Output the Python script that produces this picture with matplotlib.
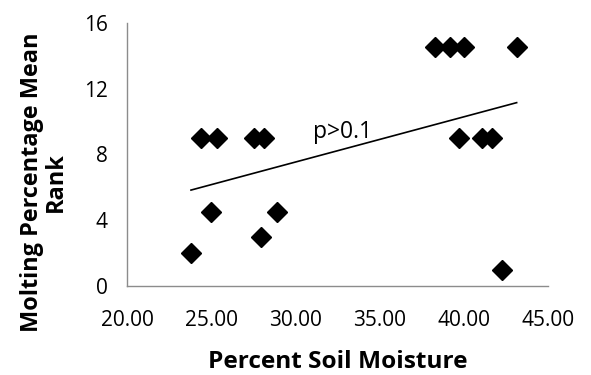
import matplotlib
matplotlib.use("Agg")
import matplotlib.pyplot as plt
import numpy as np

plt.rcParams['font.family'] = ['Open Sans', 'DejaVu Sans']

soil_moisture = [23.80, 24.39, 25.32, 24.97, 27.56, 28.14, 27.94, 28.93,
                 38.29, 39.18, 40.03, 43.14, 39.69, 41.06, 41.69, 42.25]
molting_rank = [2, 9, 9, 4.5, 9, 9, 3, 4.5,
                14.5, 14.5, 14.5, 14.5, 9, 9, 9, 1]
x_ticks = [20, 25, 30, 35, 40, 45]
y_ticks = [0, 4, 8, 12, 16]
annotation = "p>0.1"

fig = plt.figure(figsize=(5.91, 3.75), dpi=100)
ax = fig.add_axes([0.2149, 0.2373, 0.7123, 0.7022])

x = np.array(soil_moisture)
y = np.array(molting_rank)
ax.plot(x, y, linestyle='none', marker='D', markersize=10.3, color='black')

m, b = np.polyfit(x, y, 1)
xl = np.array([x.min(), x.max()])
ax.plot(xl, m * xl + b, color='black', linewidth=1.2)

ax.text(31.05, 8.98, annotation, fontsize=16.5, ha='left', va='baseline')

ax.set_xlim(20, 45)
ax.set_ylim(0, 16)
ax.set_xticks(x_ticks)
ax.set_xticklabels([f"{v:.2f}" for v in x_ticks])
ax.set_yticks(y_ticks)
ax.tick_params(length=0, labelsize=15)
ax.tick_params(axis='x', pad=17)
ax.tick_params(axis='y', pad=14)
for s in ['top', 'right']:
    ax.spines[s].set_visible(False)
for s in ['left', 'bottom']:
    ax.spines[s].set_color('#8c8c8c')
    ax.spines[s].set_linewidth(1.0)

fig.text(337.5 / 591, 1 - 368 / 375, "Percent Soil Moisture", fontsize=17.6,
         fontweight='bold', ha='center', va='baseline')
fig.text(44 / 591, 1 - 182.5 / 375, "Molting Percentage Mean\nRank", fontsize=16.9,
         fontweight='bold', ha='center', va='center', rotation=90,
         linespacing=1.0, multialignment='center')

fig.savefig("out.png", dpi=100)
